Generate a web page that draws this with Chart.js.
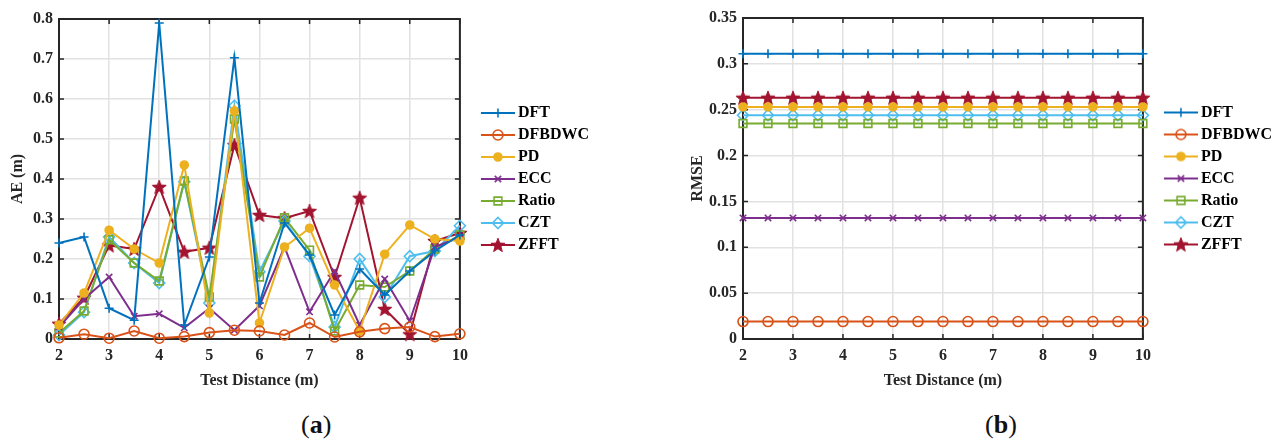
<!DOCTYPE html>
<html>
<head>
<meta charset="utf-8">
<script src="https://cdn.jsdelivr.net/npm/chart.js@4.4.1/dist/chart.umd.min.js"></script>
<style>
  body { margin: 0; background: #fff; width: 1288px; height: 446px; position: relative; overflow: hidden; font-family: "Liberation Serif", serif; }
  canvas { position: absolute; top: 0; }
  .cap { position: absolute; top: 410px; font-size: 26px; color: #111; }
</style>
</head>
<body>
<canvas id="ae" width="620" height="400" style="left:0"></canvas>
<canvas id="rmse" width="608" height="400" style="left:680px"></canvas>
<div class="cap" style="left:301px">(<b>a</b>)</div>
<div class="cap" style="left:985px">(<b>b</b>)</div>
<script>
// test distances (m)
const distances = [2, 2.5, 3, 3.5, 4, 4.5, 5, 5.5, 6, 6.5, 7, 7.5, 8, 8.5, 9, 9.5, 10];
const distanceTicks = [2, 3, 4, 5, 6, 7, 8, 9, 10];
const methods = ['DFT', 'DFBDWC', 'PD', 'ECC', 'Ratio', 'CZT', 'ZFFT'];

// (a) absolute error per distance
const aeDFT    = [0.240, 0.255, 0.077, 0.047, 0.790, 0.035, 0.205, 0.703, 0.090, 0.290, 0.210, 0.060, 0.175, 0.110, 0.170, 0.220, 0.260];
const aeDFBDWC = [0.003, 0.012, 0.002, 0.020, 0.002, 0.006, 0.016, 0.022, 0.020, 0.010, 0.040, 0.005, 0.018, 0.026, 0.030, 0.006, 0.013];
const aePD     = [0.035, 0.115, 0.272, 0.225, 0.190, 0.435, 0.065, 0.570, 0.040, 0.230, 0.277, 0.135, 0.020, 0.212, 0.285, 0.250, 0.245];
const aeECC    = [0.030, 0.100, 0.155, 0.057, 0.063, 0.028, 0.077, 0.022, 0.083, 0.230, 0.068, 0.170, 0.035, 0.150, 0.045, 0.230, 0.255];
const aeRatio  = [0.015, 0.070, 0.248, 0.190, 0.145, 0.395, 0.105, 0.550, 0.155, 0.303, 0.222, 0.020, 0.135, 0.130, 0.170, 0.225, 0.260];
const aeCZT    = [0.010, 0.067, 0.255, 0.190, 0.140, 0.393, 0.090, 0.583, 0.168, 0.295, 0.207, 0.030, 0.200, 0.105, 0.207, 0.220, 0.283];
const aeZFFT   = [0.038, 0.103, 0.234, 0.225, 0.380, 0.218, 0.228, 0.485, 0.310, 0.302, 0.320, 0.155, 0.353, 0.075, 0.012, 0.245, 0.265];
const aeTicks  = [0, 0.1, 0.2, 0.3, 0.4, 0.5, 0.6, 0.7, 0.8];

// (b) RMSE of each method (same at every distance)
const rmseValues = [0.311, 0.019, 0.253, 0.132, 0.235, 0.244, 0.263];
const rmseTicks  = [0, 0.05, 0.1, 0.15, 0.2, 0.25, 0.3, 0.35];

const colors = ['#0072BD', '#D95319', '#EDB120', '#7E2F8E', '#77AC30', '#4DBEEE', '#A2142F'];

function starImage(color) {
  const c = document.createElement('canvas');
  c.width = 16; c.height = 16;
  const g = c.getContext('2d');
  g.beginPath();
  for (let i = 0; i < 10; i++) {
    const r = i % 2 ? 3.1 : 7.4;
    const a = -Math.PI / 2 + i * Math.PI / 5;
    g.lineTo(8 + r * Math.cos(a), 8.6 + r * Math.sin(a));
  }
  g.closePath();
  g.fillStyle = color; g.fill();
  g.strokeStyle = color; g.lineWidth = 1; g.stroke();
  return c;
}

const markers = [
  { pointStyle: 'cross', radius: 4.5, fill: 'rgba(0,0,0,0)' },
  { pointStyle: 'circle', radius: 5, fill: 'rgba(0,0,0,0)' },
  { pointStyle: 'circle', radius: 4, fill: colors[2] },
  { pointStyle: 'crossRot', radius: 4.5, fill: 'rgba(0,0,0,0)' },
  { pointStyle: 'rect', radius: 5.5, fill: 'rgba(0,0,0,0)' },
  { pointStyle: 'rectRot', radius: 5.5, fill: 'rgba(0,0,0,0)' },
  { pointStyle: starImage(colors[6]), radius: 7, fill: colors[6] },
];

function legendIcon(i) {
  const c = document.createElement('canvas');
  c.width = 54; c.height = 18;
  const g = c.getContext('2d');
  g.strokeStyle = colors[i]; g.lineWidth = 2;
  g.beginPath(); g.moveTo(20, 9); g.lineTo(54, 9); g.stroke();
  g.fillStyle = markers[i].fill; g.lineWidth = 1.6;
  Chart.helpers.drawPoint(g, { pointStyle: markers[i].pointStyle, radius: markers[i].radius, borderWidth: 1.6, rotation: 0 }, 37, 9);
  return c;
}

Chart.defaults.font.family = '"Liberation Serif", serif';
Chart.defaults.font.weight = 'bold';
Chart.defaults.color = '#262626';

const boxPlugin = {
  id: 'box',
  beforeDatasetsDraw(chart) {
    const { ctx, chartArea: a, scales: { x, y } } = chart;
    ctx.save();
    ctx.strokeStyle = '#262626';
    ctx.lineWidth = 1.5;
    ctx.beginPath();
    x.ticks.forEach(t => {
      const px = x.getPixelForValue(t.value);
      ctx.moveTo(px, a.bottom); ctx.lineTo(px, a.bottom - 5);
      ctx.moveTo(px, a.top); ctx.lineTo(px, a.top + 5);
    });
    y.ticks.forEach(t => {
      const py = y.getPixelForValue(t.value);
      ctx.moveTo(a.left, py); ctx.lineTo(a.left + 5, py);
      ctx.moveTo(a.right, py); ctx.lineTo(a.right - 5, py);
    });
    ctx.stroke();
    ctx.lineWidth = 2;
    ctx.strokeRect(a.left, a.top, a.width, a.height);
    ctx.restore();
  }
};

function makeDatasets(series) {
  return methods.map((name, i) => ({
    label: name,
    data: distances.map((d, j) => ({ x: d, y: series[i][j] })),
    borderColor: colors[i],
    backgroundColor: markers[i].fill,
    pointBackgroundColor: markers[i].fill,
    pointBorderColor: colors[i],
    pointStyle: markers[i].pointStyle,
    pointRadius: markers[i].radius,
    pointBorderWidth: 1.6,
    borderWidth: 2,
    tension: 0,
    clip: false,
  }));
}

function makeChart(id, series, yTicks, yMax, yTitle, pad, yWidth) {
  return new Chart(document.getElementById(id), {
    type: 'line',
    data: { datasets: makeDatasets(series) },
    options: {
      responsive: false,
      animation: false,
      layout: { padding: pad },
      plugins: {
        tooltip: { enabled: false },
        legend: {
          position: 'right',
          fullSize: false,
          labels: {
            usePointStyle: true,
            pointStyleWidth: 44,
            padding: 6,
            color: '#1a1a1a',
            font: { size: 16, weight: 'bold' },
            generateLabels: chart => chart.data.datasets.map((ds, i) => ({
              text: ds.label, datasetIndex: i, hidden: false,
              pointStyle: legendIcon(i), lineWidth: 0,
              strokeStyle: 'transparent', fillStyle: 'transparent',
            })),
          },
        },
      },
      scales: {
        x: {
          type: 'linear', min: 2, max: 10,
          afterBuildTicks: ax => { ax.ticks = distanceTicks.map(v => ({ value: v })); },
          afterFit: ax => { ax.height = 61; },
          grid: { color: '#e2e2e2', lineWidth: 1.5, drawTicks: false },
          border: { display: false },
          ticks: { padding: 7, font: { size: 16, weight: 'bold' }, color: '#262626' },
          title: { display: true, text: 'Test Distance (m)', font: { size: 16, weight: 'bold' }, color: '#262626', padding: { top: 4, bottom: 10 } },
        },
        y: {
          min: 0, max: yMax,
          afterBuildTicks: ax => { ax.ticks = yTicks.map(v => ({ value: v })); },
          afterFit: ax => { ax.width = yWidth; },
          grid: { color: '#e2e2e2', lineWidth: 1.5, drawTicks: false },
          border: { display: false },
          ticks: { padding: 6, font: { size: 16, weight: 'bold' }, color: '#262626', callback: v => String(+v.toFixed(2)) },
          title: { display: true, text: yTitle, font: { size: 16, weight: 'bold' }, color: '#262626', padding: { top: 8, bottom: 0 } },
        },
      },
    },
    plugins: [boxPlugin],
  });
}

makeChart('ae', [aeDFT, aeDFBDWC, aePD, aeECC, aeRatio, aeCZT, aeZFFT], aeTicks, 0.8, 'AE (m)',
  { top: 19, right: 21, bottom: 0, left: 0 }, 59);

const rmseSeries = rmseValues.map(v => distances.map(() => v));
makeChart('rmse', rmseSeries, rmseTicks, 0.35, 'RMSE',
  { top: 18, right: 6, bottom: 0, left: 0 }, 63);
</script>
</body>
</html>
